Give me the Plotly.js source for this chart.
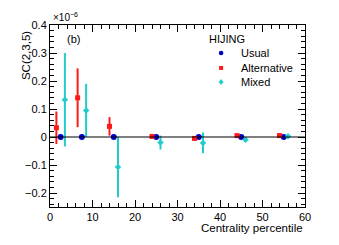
<!DOCTYPE html>
<html><head><meta charset="utf-8">
<script src="https://cdn.plot.ly/plotly-3.0.1.min.js"></script>
<style>body{margin:0;background:#fff}#c{width:339px;height:245px}</style>
</head><body><div id="c"></div>
<script>
// values in units of 1e-6
var seriesNames = ['Usual', 'Alternative', 'Mixed'];
var usualX = [2.5, 7.5, 15, 25, 35, 45, 55];
var usualY = [0, 0, 0, 0, 0, 0, 0];
var usualErr = [0.002, 0.002, 0.002, 0.002, 0.002, 0.002, 0.002];
var altX = [1.5, 6.5, 14, 24, 34, 44, 54];
var altY = [0.033, 0.14, 0.038, 0.002, -0.005, 0.005, 0.005];
var altErr = [0.058, 0.105, 0.033, 0.004, 0.008, 0.004, 0.004];
var mixX = [3.5, 8.5, 16, 26, 36, 46, 56];
var mixY = [0.133, 0.095, -0.107, -0.02, -0.021, -0.01, 0.003];
var mixErr = [0.167, 0.095, 0.108, 0.025, 0.037, 0.008, 0.008];

var colors = ['#0000cc', '#ff1a1a', '#22cccc'];
var FONT = 'Liberation Sans, Arial, sans-serif';

var traces = [
  {x: usualX, y: usualY, name: seriesNames[0], type: 'scatter', mode: 'markers',
   marker: {color: colors[0], size: 6, symbol: 'circle'},
   error_y: {type: 'data', array: usualErr, color: colors[0], thickness: 1.5, width: 0}},
  {x: altX, y: altY, name: seriesNames[1], type: 'scatter', mode: 'markers',
   marker: {color: colors[1], size: 5, symbol: 'square'},
   error_y: {type: 'data', array: altErr, color: colors[1], thickness: 2, width: 0}},
  {x: mixX, y: mixY, name: seriesNames[2], type: 'scatter', mode: 'markers',
   marker: {color: colors[2], size: 5, symbol: 'diamond'},
   error_y: {type: 'data', array: mixErr, color: colors[2], thickness: 2, width: 0}}
];

var ax = {
  showline: true, linecolor: '#000', linewidth: 1, mirror: 'allticks',
  ticks: 'inside', ticklen: 7, tickcolor: '#000', showgrid: false, zeroline: false,
  tickfont: {family: FONT, size: 11, color: '#000'}
};

// manual compact legend
var legX = 0.671, legTextX = 0.741, legY = [0.846, 0.764, 0.687];
var shapes = [{type: 'line', xref: 'paper', yref: 'y', x0: 0, x1: 1, y0: 0, y1: 0,
    line: {color: '#000', width: 1}}];
shapes.push({type: 'circle', xref: 'paper', yref: 'paper', xsizemode: 'pixel', ysizemode: 'pixel',
  xanchor: legX, yanchor: legY[0], x0: -2.3, x1: 2.3, y0: -2.3, y1: 2.3,
  fillcolor: colors[0], line: {width: 0}});
shapes.push({type: 'rect', xref: 'paper', yref: 'paper', xsizemode: 'pixel', ysizemode: 'pixel',
  xanchor: legX, yanchor: legY[1], x0: -2, x1: 2, y0: -2, y1: 2,
  fillcolor: colors[1], line: {width: 0}});
shapes.push({type: 'path', xref: 'paper', yref: 'paper', xsizemode: 'pixel', ysizemode: 'pixel',
  xanchor: legX, yanchor: legY[2], path: 'M 0 -3 L 2.5 0 L 0 3 L -2.5 0 Z',
  fillcolor: colors[2], line: {width: 0}});

var annotations = [
  {xref: 'paper', yref: 'paper', x: 0.005, y: 1.0, xanchor: 'left', yanchor: 'bottom',
   text: '×10<sup>−6</sup>', showarrow: false, font: {family: FONT, size: 10, color: '#000'}},
  {xref: 'paper', yref: 'paper', x: 0.06, y: 0.925, xanchor: 'left', yanchor: 'middle',
   text: '(b)', showarrow: false, font: {family: FONT, size: 11, color: '#000'}},
  {xref: 'paper', yref: 'paper', x: 0.616, y: 0.923, xanchor: 'left', yanchor: 'middle',
   text: 'HIJING', showarrow: false, font: {family: FONT, size: 11, color: '#000'}},
  {xref: 'paper', yref: 'paper', x: 1.0, y: -0.115, xanchor: 'right', yanchor: 'middle',
   text: 'Centrality percentile', showarrow: false, font: {family: FONT, size: 11.5, color: '#000'}},
  {xref: 'paper', yref: 'paper', x: -0.094, y: 0.975, xanchor: 'center', yanchor: 'top', textangle: -90,
   text: 'SC(2,3,5)', showarrow: false, font: {family: FONT, size: 11.5, color: '#000'}}
];
for (var i = 0; i < seriesNames.length; i++) {
  annotations.push({xref: 'paper', yref: 'paper', x: legTextX, y: legY[i], xanchor: 'left', yanchor: 'middle',
    text: seriesNames[i], showarrow: false, font: {family: FONT, size: 11, color: '#000'}});
}

var layout = {
  width: 339, height: 245,
  margin: {l: 50, r: 34, t: 25, b: 38},
  paper_bgcolor: '#fff', plot_bgcolor: '#fff',
  showlegend: false,
  xaxis: Object.assign({}, ax, {range: [0, 60], dtick: 10, tick0: 0,
    minor: {dtick: 2, ticks: 'inside', ticklen: 4, tickcolor: '#000'}}),
  yaxis: Object.assign({}, ax, {range: [-0.25, 0.4], dtick: 0.1, tick0: 0,
    minor: {dtick: 0.02, ticks: 'inside', ticklen: 4, tickcolor: '#000'}}),
  shapes: shapes,
  annotations: annotations
};
Plotly.newPlot('c', traces, layout, {displayModeBar: false, staticPlot: true});
</script></body></html>
